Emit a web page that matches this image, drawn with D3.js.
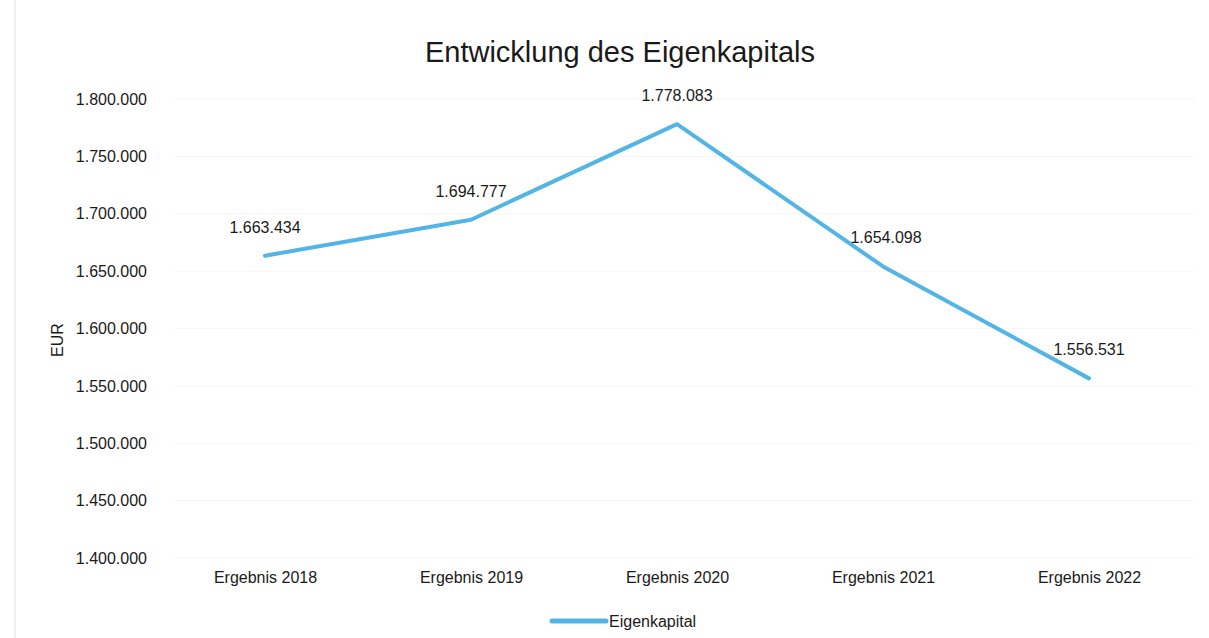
<!DOCTYPE html>
<html>
<head>
<meta charset="utf-8">
<script src="https://cdn.jsdelivr.net/npm/d3@7"></script>
<style>
  body { margin: 0; background: #fff; }
  text { font-family: "Liberation Sans", Arial, sans-serif; fill: #1a1a1a; }
</style>
</head>
<body>
<div id="chart"></div>
<script>
let w = 1209;
let h = 638;

// data
const categories = ["Ergebnis 2018", "Ergebnis 2019", "Ergebnis 2020", "Ergebnis 2021", "Ergebnis 2022"];
const eigenkapital = [1663434, 1694777, 1778083, 1654098, 1556531];
const yTicks = [1400000, 1450000, 1500000, 1550000, 1600000, 1650000, 1700000, 1750000, 1800000];
const seriesName = "Eigenkapital";

// german number format: 1.663.434
const de = d3.formatLocale({ decimal: ",", thousands: ".", grouping: [3], currency: ["", " €"] });
const fmt = de.format(",.0f");

var svg = d3.select("#chart").append("svg").attr("width", w).attr("height", h);

// faint left edge of the scan
svg.append("line")
  .attr("x1", 15).attr("x2", 15).attr("y1", 0).attr("y2", h)
  .attr("stroke", "#f0f0f0").attr("stroke-width", 2);

var x = d3.scalePoint().domain(categories).range([162, 1192]).padding(0.5);
var y = d3.scaleLinear().domain([1400000, 1800000]).range([558, 99]);

// title
svg.append("text")
  .attr("x", 620).attr("y", 62)
  .attr("text-anchor", "middle")
  .style("font-size", "29px")
  .text("Entwicklung des Eigenkapitals");

// gridlines, very faint
svg.append("g")
  .selectAll("line")
  .data(yTicks)
  .enter()
  .append("line")
  .attr("x1", 175).attr("x2", 1195)
  .attr("y1", d => y(d)).attr("y2", d => y(d))
  .attr("stroke", "#f5f5f5");

// y axis (labels only)
var yAxis = svg.append("g")
  .attr("transform", "translate(147,0)")
  .call(d3.axisLeft(y).tickValues(yTicks).tickFormat(fmt).tickSize(0).tickPadding(0));
yAxis.select(".domain").remove();
yAxis.selectAll("text").style("font-size", "16px").attr("dy", "0.32em");

// x axis (labels only)
var xAxis = svg.append("g")
  .attr("transform", "translate(0,572)")
  .call(d3.axisBottom(x).tickSize(0).tickPadding(0));
xAxis.select(".domain").remove();
xAxis.selectAll("text").style("font-size", "16px").attr("dy", "0.71em");

// y axis title
svg.append("text")
  .attr("transform", "translate(63,340) rotate(-90)")
  .attr("text-anchor", "middle")
  .style("font-size", "16px")
  .text("EUR");

// the line
var line = d3.line()
  .x((d, i) => x(categories[i]))
  .y(d => y(d));

svg.append("path")
  .datum(eigenkapital)
  .attr("fill", "none")
  .attr("stroke", "#52b5e5")
  .attr("stroke-width", 4)
  .attr("stroke-linejoin", "round")
  .attr("stroke-linecap", "round")
  .attr("d", line);

// value labels above points
svg.append("g")
  .selectAll("text")
  .data(eigenkapital)
  .enter()
  .append("text")
  .attr("x", (d, i) => x(categories[i]) + (i === 3 ? 3 : 0))
  .attr("y", d => y(d) - 23)
  .attr("text-anchor", "middle")
  .style("font-size", "16px")
  .text(d => fmt(d));

// legend
var legend = svg.append("g").attr("transform", "translate(552,621)");
legend.append("line")
  .attr("x1", 0).attr("x2", 54)
  .attr("stroke", "#52b5e5").attr("stroke-width", 5).attr("stroke-linecap", "round");
legend.append("text")
  .attr("x", 57).attr("dy", "0.35em")
  .style("font-size", "16px")
  .text(seriesName);
</script>
</body>
</html>
